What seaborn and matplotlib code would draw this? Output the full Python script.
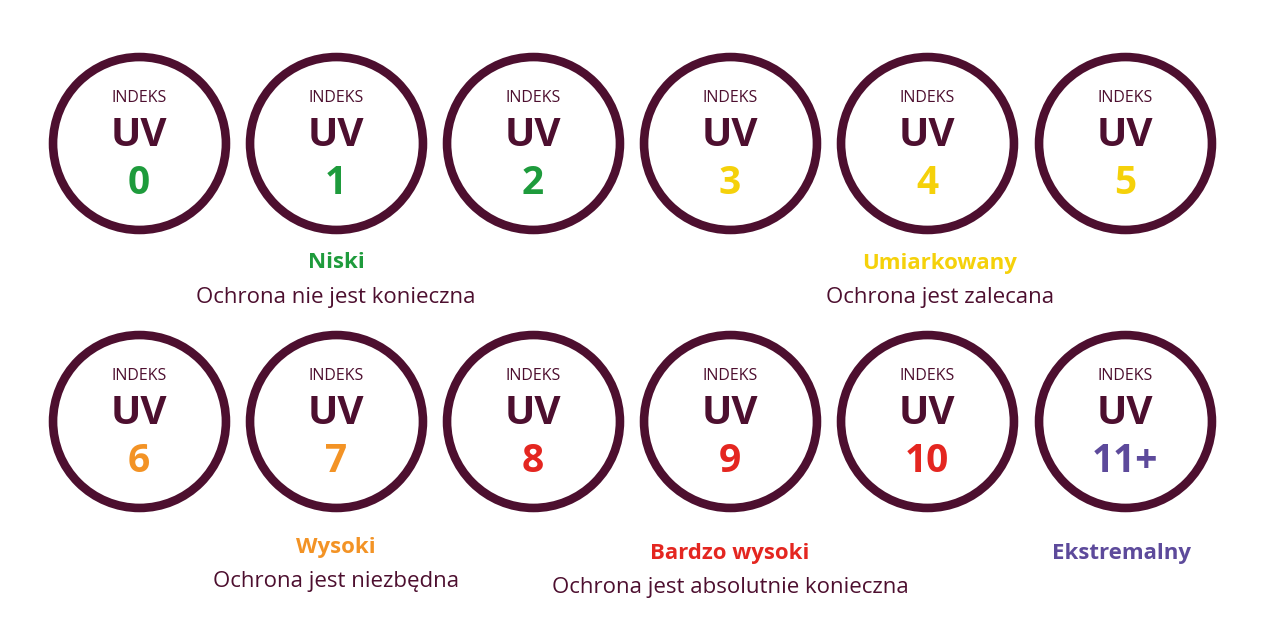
import matplotlib
matplotlib.use("Agg")
import matplotlib.pyplot as plt
import seaborn as sns
import pandas as pd

values = ["0","1","2","3","4","5","6","7","8","9","10","11+"]
col_x = [139,336,533,730,927,1125]*2
row_y = [143]*6 + [421]*6
num_colors = ["#1e9b3c"]*3 + ["#f5d10a"]*3 + ["#f39325"]*2 + ["#e42620"]*3 + ["#5d4a9b"]
categories = ["Niski","Umiarkowany","Wysoki","Bardzo wysoki","Ekstremalny"]
cat_desc = ["Ochrona nie jest konieczna","Ochrona jest zalecana","Ochrona jest niezbędna",
            "Ochrona jest absolutnie konieczna",""]
cat_colors = ["#1e9b3c","#f5d10a","#f39325","#e42620","#5d4a9b"]
cat_x = [336,940,336,730,1122]
cat_y = [263,263,548,553,553]
ring = "#4d0f2f"

sns.set_theme(style="white")
plt.rcParams['font.family'] = ['Open Sans','DejaVu Sans']
fig = plt.figure(figsize=(12.8,6.31), dpi=100)
ax = fig.add_axes([0,0,1,1])
df = pd.DataFrame({"x":col_x,"y":row_y})
sns.scatterplot(data=df, x="x", y="y", ax=ax, s=15500, marker="o",
                facecolor="white", edgecolor=ring, linewidth=6.2, legend=False)
ax.set_xlim(0,1280); ax.set_ylim(631,0); ax.axis("off")
for x,y,v,c in zip(col_x,row_y,values,num_colors):
    ax.text(x,y-45,"INDEKS",ha="center",va="center",fontsize=11.5,color=ring)
    ax.text(x,y-7,"UV",ha="center",va="center",fontsize=29,fontweight="bold",color=ring)
    ax.text(x,y+40,v,ha="center",va="center",fontsize=28,fontweight="bold",color=c)
for x,y,n,d,c in zip(cat_x,cat_y,categories,cat_desc,cat_colors):
    ax.text(x,y,n,ha="center",va="center",fontsize=16,fontweight="bold",color=c)
    if d:
        ax.text(x,y+34,d,ha="center",va="center",fontsize=16,color=ring)
fig.savefig("out.png", dpi=100)
